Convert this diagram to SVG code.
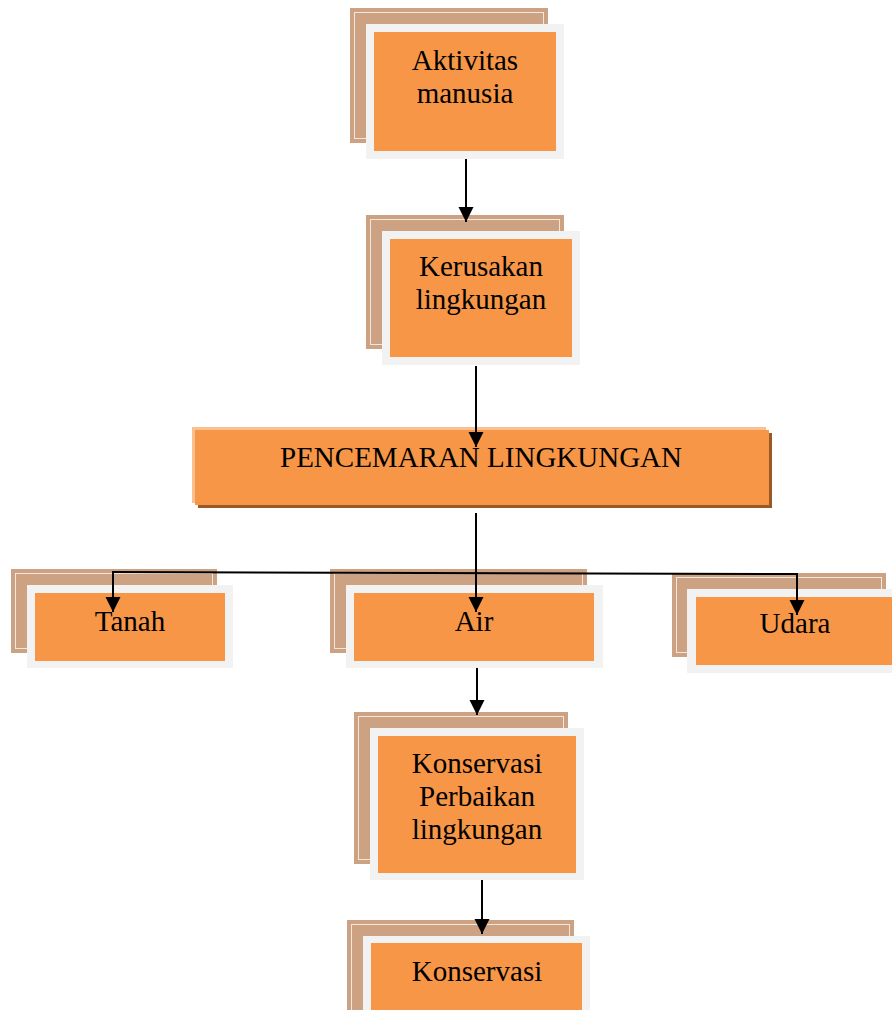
<svg xmlns="http://www.w3.org/2000/svg" width="892" height="1010" viewBox="0 0 892 1010">
  <style>
    .back { fill: #CDA283; }
    .back-line { fill: none; stroke: #F3E6DC; stroke-width: 1; }
    .frame { fill: #F2F2F2; }
    .face { fill: #F79646; }
    .hl { fill: #FAC090; }
    .shadow { fill: #9A5A28; }
    .label { font-family: "Liberation Serif", "Times New Roman", serif; font-size: 29px; fill: #000; text-anchor: middle; }
    .conn { fill: none; stroke: #000; stroke-width: 2; }
  </style>
  <defs>
    <marker id="arrow" markerUnits="userSpaceOnUse" markerWidth="16" markerHeight="16" refX="15" refY="7.5" orient="auto">
      <path d="M0,0 L15,7.5 L0,15 z" fill="#000"/>
    </marker>
  </defs>
  <rect width="892" height="1010" fill="#fff"/>

  <g id="node-aktivitas">
    <rect class="back" x="350" y="8" width="198" height="135"/>
    <rect class="back-line" x="354.5" y="12.5" width="189" height="126"/>
    <rect class="frame" x="366" y="24" width="198" height="135"/>
    <rect class="face" x="374" y="32" width="182" height="119"/>
    <text class="label" x="465" y="70">Aktivitas</text>
    <text class="label" x="465" y="103">manusia</text>
  </g>

  <g id="node-kerusakan">
    <rect class="back" x="366" y="215" width="198" height="134"/>
    <rect class="back-line" x="370.5" y="219.5" width="189" height="125"/>
    <rect class="frame" x="382" y="231" width="198" height="134"/>
    <rect class="face" x="390" y="239" width="182" height="118"/>
    <text class="label" x="481" y="276">Kerusakan</text>
    <text class="label" x="481" y="309">lingkungan</text>
  </g>

  <g id="node-pencemaran">
    <rect class="shadow" x="198" y="433" width="574" height="75"/>
    <rect class="hl" x="192" y="427" width="574" height="76"/>
    <rect class="face" x="195" y="430" width="574" height="75"/>
    <text class="label" x="481" y="467">PENCEMARAN LINGKUNGAN</text>
  </g>

  <g id="node-tanah">
    <rect class="back" x="11" y="569" width="206" height="84"/>
    <rect class="back-line" x="15.5" y="573.5" width="197" height="75"/>
    <rect class="frame" x="27" y="585" width="206" height="83"/>
    <rect class="face" x="35" y="593" width="190" height="68"/>
    <text class="label" x="130" y="631">Tanah</text>
  </g>

  <g id="node-air">
    <rect class="back" x="330" y="569" width="257" height="84"/>
    <rect class="back-line" x="334.5" y="573.5" width="248" height="75"/>
    <rect class="frame" x="346" y="585" width="257" height="83"/>
    <rect class="face" x="354" y="593" width="240" height="68"/>
    <text class="label" x="474" y="631">Air</text>
  </g>

  <g id="node-udara">
    <rect class="back" x="672" y="573" width="214" height="84"/>
    <rect class="back-line" x="676.5" y="577.5" width="205" height="75"/>
    <rect class="frame" x="687" y="589" width="214" height="84"/>
    <rect class="face" x="696" y="597" width="198" height="68"/>
    <text class="label" x="795" y="633">Udara</text>
  </g>

  <g id="node-konservasi-perbaikan">
    <rect class="back" x="354" y="712" width="214" height="152"/>
    <rect class="back-line" x="358.5" y="716.5" width="205" height="143"/>
    <rect class="frame" x="370" y="728" width="214" height="152"/>
    <rect class="face" x="378" y="736" width="198" height="137"/>
    <text class="label" x="477" y="773">Konservasi</text>
    <text class="label" x="477" y="806">Perbaikan</text>
    <text class="label" x="477" y="839">lingkungan</text>
  </g>

  <g id="node-konservasi">
    <rect class="back" x="347" y="920" width="227" height="90"/>
    <rect class="back-line" x="351.5" y="924.5" width="218" height="90"/>
    <rect class="frame" x="363" y="936" width="227" height="80"/>
    <rect class="face" x="371" y="943" width="211" height="70"/>
    <text class="label" x="477" y="981">Konservasi</text>
  </g>

  <g id="connectors">
    <path class="conn" d="M466,159 L466,222" marker-end="url(#arrow)"/>
    <path class="conn" d="M476,366 L476,447" marker-end="url(#arrow)"/>
    <path class="conn" d="M476,513 L476,612" marker-end="url(#arrow)"/>
    <path class="conn" d="M113,572 L113,612" marker-end="url(#arrow)"/>
    <path class="conn" d="M112,572 L797,574 L797,615" marker-end="url(#arrow)"/>
    <path class="conn" d="M477,668 L477,715" marker-end="url(#arrow)"/>
    <path class="conn" d="M482,880 L482,934" marker-end="url(#arrow)"/>
  </g>
</svg>
